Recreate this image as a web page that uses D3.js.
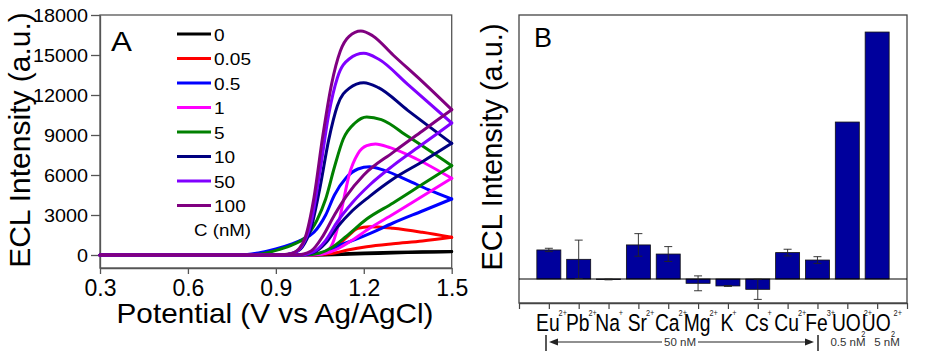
<!DOCTYPE html>
<html><head><meta charset="utf-8">
<script src="https://cdn.jsdelivr.net/npm/d3@7"></script>
<style>body{margin:0;background:#fff}svg{display:block}text{font-family:"Liberation Sans",Arial,Helvetica,sans-serif}</style>
</head><body><svg id="c" width="926" height="358"></svg>
<script>
// ---------- Panel A data (potential V, ECL intensity a.u.) ----------
const concentrations = ["0","0.05","0.5","1","5","10","50","100"];
const seriesColors = ["#000000","#ff0000","#0000ff","#ff00ff","#008000","#000080","#8000ff","#800080"];
const potentialTicks = [0.3,0.6,0.9,1.2,1.5];
const intensityTicks = [0,3000,6000,9000,12000,15000,18000];

const upper_0   = [[0.3,0],[1.0,0],[1.1,60],[1.2,150],[1.3,210],[1.4,240],[1.5,260]];
const lower_0   = [[0.3,0],[1.05,0],[1.15,50],[1.25,120],[1.35,180],[1.5,240]];
const upper_005 = [[0.3,0],[0.98,0],[1.04,60],[1.08,300],[1.12,900],[1.15,1500],[1.18,2000],[1.22,2125],[1.3,2000],[1.4,1700],[1.5,1325]];
const lower_005 = [[0.3,0],[1.0,0],[1.05,40],[1.1,150],[1.15,400],[1.21,625],[1.3,850],[1.4,1050],[1.5,1325]];
const upper_05  = [[0.3,0],[0.78,0],[0.84,150],[0.9,450],[0.95,800],[0.99,1150],[1.03,1700],[1.07,3000],[1.1,4500],[1.14,5800],[1.18,6450],[1.22,6625],[1.27,6350],[1.35,5600],[1.42,4900],[1.5,4200]];
const lower_05  = [[0.3,0],[1.0,0],[1.04,80],[1.08,350],[1.12,750],[1.17,1150],[1.22,1600],[1.3,2400],[1.4,3300],[1.5,4200]];
const upper_1   = [[0.3,0],[1.0,0],[1.06,100],[1.09,700],[1.11,2000],[1.13,4000],[1.15,6000],[1.18,7600],[1.21,8200],[1.24,8325],[1.29,8050],[1.38,7200],[1.5,5750]];
const lower_1   = [[0.3,0],[1.02,0],[1.07,120],[1.11,450],[1.16,1100],[1.22,2000],[1.3,3050],[1.4,4400],[1.5,5750]];
const upper_5   = [[0.3,0],[0.8,0],[0.86,120],[0.91,400],[0.96,800],[1.0,1300],[1.04,2600],[1.07,4200],[1.1,6600],[1.13,8700],[1.17,9900],[1.21,10350],[1.26,10150],[1.35,8900],[1.5,6700]];
const lower_5   = [[0.3,0],[1.0,0],[1.05,150],[1.09,550],[1.14,1400],[1.21,2700],[1.3,3900],[1.4,5300],[1.5,6700]];
const upper_10  = [[0.3,0],[0.92,0],[0.96,150],[0.99,600],[1.02,2000],[1.05,5000],[1.08,8600],[1.11,11200],[1.15,12500],[1.2,12925],[1.25,12550],[1.35,10850],[1.5,8375]];
const lower_10  = [[0.3,0],[0.98,0],[1.03,200],[1.07,900],[1.11,2100],[1.16,3300],[1.22,4400],[1.3,5700],[1.4,7000],[1.5,8375]];
const upper_50  = [[0.3,0],[0.92,0],[0.96,150],[0.99,700],[1.02,2400],[1.05,6200],[1.08,10500],[1.11,13300],[1.15,14700],[1.2,15125],[1.25,14700],[1.35,12800],[1.5,9900]];
const lower_50  = [[0.3,0],[0.98,0],[1.03,250],[1.07,1100],[1.11,2500],[1.16,3900],[1.22,5250],[1.3,6700],[1.4,8300],[1.5,9900]];
const upper_100 = [[0.3,0],[0.9,0],[0.95,100],[0.98,500],[1.0,1300],[1.03,4300],[1.06,8900],[1.09,12800],[1.12,15300],[1.15,16400],[1.19,16800],[1.23,16450],[1.3,15000],[1.4,13000],[1.5,10900]];
const lower_100 = [[0.3,0],[0.97,0],[1.02,300],[1.06,1400],[1.1,3000],[1.14,4400],[1.2,6000],[1.3,7700],[1.4,9300],[1.5,10900]];

const upperBranches = [upper_0,upper_005,upper_05,upper_1,upper_5,upper_10,upper_50,upper_100];
const lowerBranches = [lower_0,lower_005,lower_05,lower_1,lower_5,lower_10,lower_50,lower_100];

// ---------- Panel B data ----------
const ions       = ["Eu","Pb","Na","Sr","Ca","Mg","K","Cs","Cu","Fe","UO","UO"];
const ionSubs    = ["","","","","","","","","","","2","2"];
const ionCharges = ["2+","2+","+","2+","2+","2+","+","+","2+","3+","2+","2+"];
const ionIntensity = [1210, 820, -20, 1420, 1040, -180, -290, -430, 1100, 790, 6540, 10290];
const ionError     = [70, 800, 15, 470, 310, 310, 20, 420, 140, 140, 0, 0];
const concGroups   = ["50 nM","0.5 nM","5 nM"];

// ---------- drawing ----------
const svg = d3.select("#c");
function label(parent, x, y, str, size, o = {}) {
  const t = parent.append("text")
    .attr("transform", `translate(${x},${y}) scale(${o.sx || 1},1) rotate(${o.rot || 0})`)
    .attr("text-anchor", o.anchor || "start")
    .attr("font-size", size)
    .attr("fill", o.fill || "#000")
    .text(str);
  return t;
}

// ===== Panel A =====
const gA = svg.append("g");
const xA = d3.scaleLinear([0.3, 1.5], [100, 451.7]);
const yA = d3.scaleLinear([-975, 18000], [268, 15]);

gA.append("rect").attr("x", 100).attr("y", 15).attr("width", 351.7).attr("height", 253)
  .attr("fill", "none").attr("stroke", "#555").attr("stroke-width", 1.3);

const axYA = gA.append("g").attr("transform", "translate(100,0)")
  .call(d3.axisLeft(yA).tickValues(intensityTicks).tickSize(9).tickSizeOuter(0).tickFormat(d3.format("d")));
axYA.select(".domain").attr("stroke", "#555").attr("stroke-width", 1.3);
axYA.selectAll(".tick line").attr("stroke", "#555").attr("stroke-width", 1.3);
axYA.selectAll(".tick text").attr("font-size", 18).attr("font-family", null).attr("fill", "#000")
  .attr("x", 0).attr("dy", "0.35em")
  .attr("transform", "translate(-12,0) scale(1.1,1)");

const axXA = gA.append("g").attr("transform", "translate(0,268)")
  .call(d3.axisBottom(xA).tickValues(potentialTicks).tickSize(6).tickSizeOuter(0).tickFormat(d3.format(".1f")));
axXA.select(".domain").attr("stroke", "#555").attr("stroke-width", 1.3);
axXA.selectAll(".tick line").attr("stroke", "#555").attr("stroke-width", 1.3);
axXA.selectAll(".tick text").attr("font-size", 23).attr("font-family", null).attr("fill", "#000")
  .attr("y", 28).attr("dy", 0);

const lineA = d3.line().x(d => xA(d[0])).y(d => yA(d[1])).curve(d3.curveMonotoneX);
const curvesA = gA.append("g");
concentrations.forEach((c, i) => {
  [lowerBranches[i], upperBranches[i]].forEach(branch => {
    curvesA.append("path").attr("d", lineA(branch)).attr("fill", "none")
      .attr("stroke", seriesColors[i]).attr("stroke-width", 3)
      .attr("stroke-linejoin", "round").attr("stroke-linecap", "round");
  });
});

// legend
concentrations.forEach((c, i) => {
  const y = 34 + i * 24.5;
  gA.append("line").attr("x1", 177).attr("x2", 211).attr("y1", y).attr("y2", y)
    .attr("stroke", seriesColors[i]).attr("stroke-width", 3);
  label(gA, 214, y + 6.5, c, 17, { sx: 1.12 });
});
label(gA, 194, 236, "C (nM)", 17, { sx: 1.1 });
label(gA, 111, 51, "A", 28, { sx: 1.12 });
label(gA, 275, 323, "Potential (V vs Ag/AgCl)", 27, { anchor: "middle", sx: 1.1 });
label(gA, 30, 140, "ECL Intensity (a.u.)", 30, { anchor: "middle", rot: -90 });

// ===== Panel B =====
const gB = svg.append("g");
const xB = d3.scaleLinear([0, 13], [519, 907]);
const yB = d3.scaleLinear([-1000, 11000], [303, 15]);

gB.append("rect").attr("x", 519).attr("y", 15).attr("width", 388).attr("height", 288)
  .attr("fill", "none").attr("stroke", "#444").attr("stroke-width", 1.3);

const axXB = gB.append("g").attr("transform", "translate(0,303)")
  .call(d3.axisBottom(xB).tickValues(d3.range(0, 14)).tickSize(6).tickSizeOuter(0).tickFormat(""));
axXB.select(".domain").attr("stroke", "#444").attr("stroke-width", 1.3);
axXB.selectAll(".tick line").attr("stroke", "#444").attr("stroke-width", 1.2);

const barW = 24;
gB.selectAll("rect.bar").data(ionIntensity).join("rect").attr("class", "bar")
  .attr("x", (d, i) => xB(i + 1) - barW / 2)
  .attr("y", d => yB(Math.max(0, d)))
  .attr("width", barW)
  .attr("height", d => Math.abs(yB(d) - yB(0)))
  .attr("fill", "#00009c").attr("stroke", "#111").attr("stroke-width", 0.8);

gB.append("line").attr("x1", 519).attr("x2", 907).attr("y1", yB(0)).attr("y2", yB(0))
  .attr("stroke", "#000").attr("stroke-width", 1);

ionIntensity.forEach((v, i) => {
  const e = ionError[i];
  if (!e) return;
  const cx = xB(i + 1);
  const g = gB.append("g").attr("stroke", "#222").attr("stroke-width", 0.9);
  g.append("line").attr("x1", cx).attr("x2", cx).attr("y1", yB(v - e)).attr("y2", yB(v + e));
  g.append("line").attr("x1", cx - 4).attr("x2", cx + 4).attr("y1", yB(v - e)).attr("y2", yB(v - e));
  g.append("line").attr("x1", cx - 4).attr("x2", cx + 4).attr("y1", yB(v + e)).attr("y2", yB(v + e));
});

// category labels
const labSX = 0.82;
ions.forEach((ion, i) => {
  const cx = xB(i + 1) - 1;
  const t = label(gB, cx, 331, ion, 23.5, { anchor: "middle", sx: labSX });
  const w = t.node().getComputedTextLength() * labSX;
  let end = cx + w / 2;
  if (ionSubs[i]) {
    label(gB, end + 0.5, 337, ionSubs[i], 9, { sx: labSX, fill: "#222" });
    end += 4;
  }
  label(gB, end - 1, 316, ionCharges[i], 9, { sx: labSX, fill: "#222" });
});

// concentration bracket
const br = gB.append("g").attr("stroke", "#222").attr("fill", "#222");
br.append("line").attr("x1", 546).attr("x2", 546).attr("y1", 335).attr("y2", 351).attr("stroke-width", 1.5);
br.append("line").attr("x1", 818).attr("x2", 818).attr("y1", 335).attr("y2", 351).attr("stroke-width", 1.5);
br.append("line").attr("x1", 552).attr("x2", 662).attr("y1", 342).attr("y2", 342).attr("stroke-width", 1.2);
br.append("line").attr("x1", 698).attr("x2", 808).attr("y1", 342).attr("y2", 342).attr("stroke-width", 1.2);
br.append("path").attr("d", "M549,342 L558,338.5 L558,345.5 Z").attr("stroke", "none");
br.append("path").attr("d", "M814,342 L805,338.5 L805,345.5 Z").attr("stroke", "none");
label(gB, 680, 346, concGroups[0], 11.5, { anchor: "middle", fill: "#333" });
label(gB, 848, 346, concGroups[1], 11.5, { anchor: "middle", fill: "#333" });
label(gB, 887, 346, concGroups[2], 11.5, { anchor: "middle", fill: "#333" });

label(gB, 502, 147, "ECL Intensity (a.u.)", 29, { anchor: "middle", rot: -90 });
label(gB, 534, 47, "B", 27);
</script>
</body></html>
